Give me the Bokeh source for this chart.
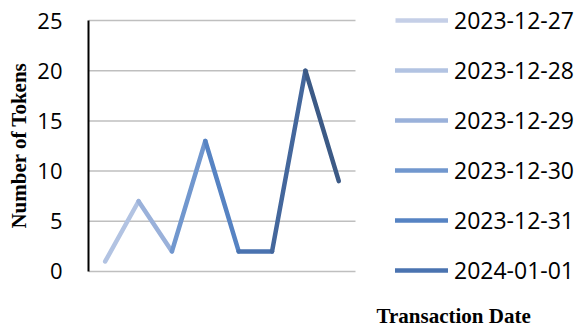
from bokeh.plotting import figure
from bokeh.models import Range1d, FixedTicker, Legend, LegendItem, Label, Title
from bokeh.embed import file_html
from bokeh.resources import INLINE

# ---- data ----
dates = ["2023-12-27", "2023-12-28", "2023-12-29", "2023-12-30",
         "2023-12-31", "2024-01-01", "2024-01-02", "2024-01-03"]
tokens = [1, 7, 2, 13, 2, 2, 20, 9]
colors = ["#C5CFE7", "#B2C3E2", "#9AB1DA", "#7197CE",
          "#5683C3", "#4A73B0", "#44679C", "#3C5A86"]
legend_dates = dates[:6]
y_ticks = [0, 5, 10, 15, 20, 25]
x_title = "Transaction Date"
y_title = "Number of Tokens"

n = len(dates)
xpos = [i + 0.5 for i in range(n)]          # category centres

# frame spans the whole right part of the canvas so legend/title are not clipped
p = figure(width=580, height=327,
           x_range=Range1d(0, 14.742),
           y_range=Range1d(-5.578, 26.793),
           output_backend="svg", toolbar_location=None,
           min_border_left=88, min_border_right=0,
           min_border_top=2, min_border_bottom=0)
p.outline_line_color = None
p.background_fill_color = "white"
p.border_fill_color = "white"
p.xgrid.visible = False
p.ygrid.visible = False
p.xaxis.visible = False

# horizontal gridlines across the category area only
p.segment(x0=[0] * len(y_ticks), x1=[n] * len(y_ticks), y0=y_ticks, y1=y_ticks,
          line_color="#BFBFBF", line_width=1.5)

# segments, each coloured by its end point
rs = [p.line(x=[xpos[0]], y=[tokens[0]], line_color=colors[0], line_width=4.5)]
for i in range(1, n):
    r = p.line(x=xpos[i - 1:i + 1], y=tokens[i - 1:i + 1], line_color=colors[i],
               line_width=4.5, line_cap="round", line_join="round")
    rs.append(r)

# y axis
p.yaxis.bounds = (0, 25)
p.yaxis.ticker = FixedTicker(ticks=y_ticks)
p.yaxis.axis_line_color = "black"
p.yaxis.axis_line_width = 2
p.yaxis.major_tick_line_color = None
p.yaxis.minor_tick_line_color = None
p.yaxis.major_tick_out = 0
p.yaxis.major_tick_in = 0
p.yaxis.major_label_standoff = 26
p.yaxis.major_label_text_font = "Open Sans"
p.yaxis.major_label_text_font_size = "22px"
p.yaxis.major_label_text_color = "black"

# y title as a left-side title, aligned to the top of the frame + offset
p.add_layout(Title(text=y_title, align="right", offset=60, standoff=4,
                   vertical_align="top",
                   text_font="Liberation Serif", text_font_style="bold",
                   text_font_size="21px", text_color="black"), "left")

# legend
items = [LegendItem(label=legend_dates[i], renderers=[rs[i]]) for i in range(len(legend_dates))]
legend = Legend(items=items, location=(307, 41), orientation="vertical",
                glyph_width=53, glyph_height=30, label_height=30,
                label_standoff=6, spacing=18, padding=0, margin=0,
                border_line_color=None, background_fill_alpha=0,
                label_text_font="Open Sans", label_text_font_size="23px",
                label_text_color="black")
p.add_layout(legend)

# x title under the legend
p.add_layout(Label(x=10.94, y=-4.45,
                   text=x_title, text_align="center", text_baseline="alphabetic",
                   text_font="Liberation Serif", text_font_style="bold",
                   text_font_size="21px", text_color="black"))

open("out.html", "w").write(file_html(p, INLINE))
